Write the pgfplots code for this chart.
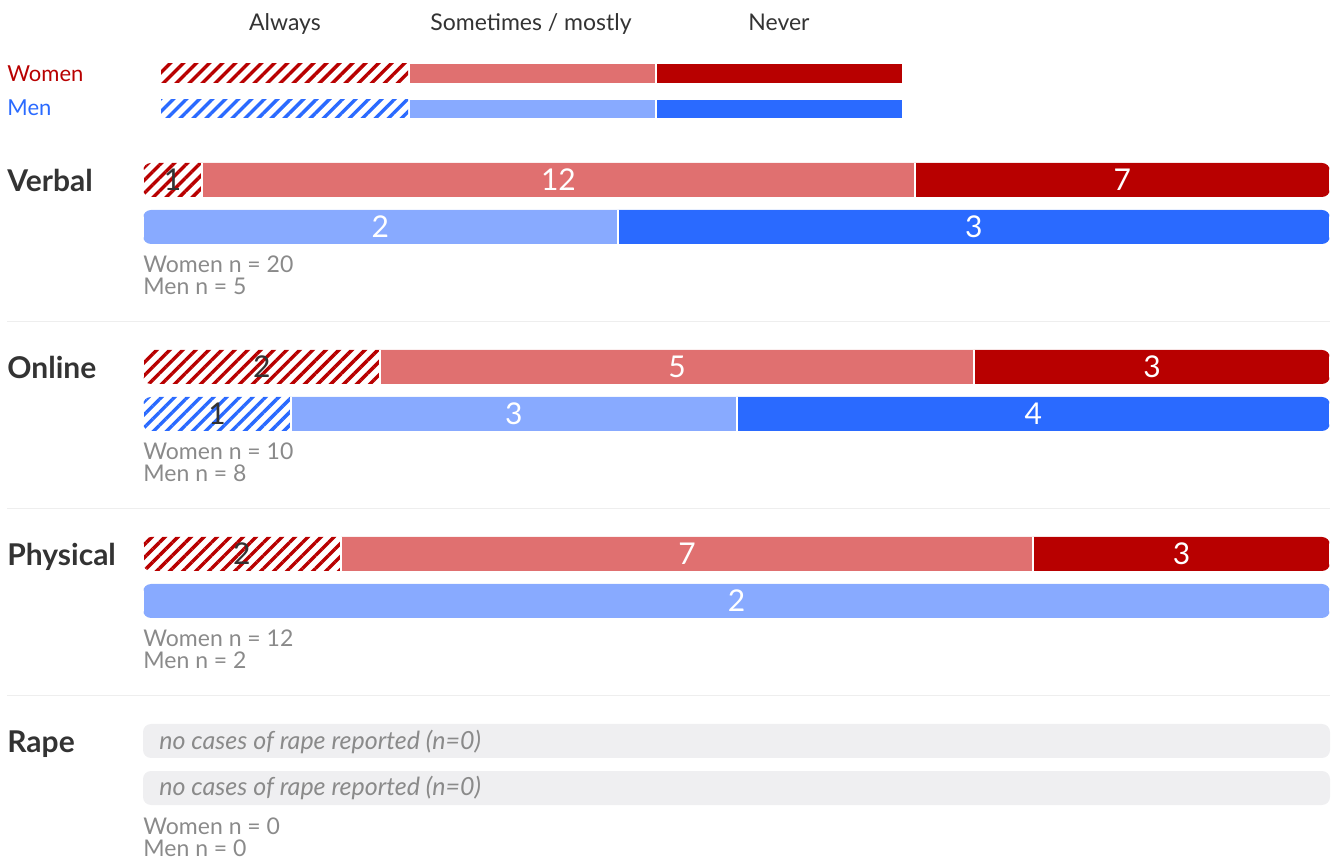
\documentclass[border=0pt]{standalone}
\usepackage{fontspec}
\setmainfont{Lato}
\usepackage{pgfplots}
\pgfplotsset{compat=1.18}
\usepackage{pgfplotstable}
\usetikzlibrary{patterns.meta}

\definecolor{wdark}{HTML}{B80000}
\definecolor{wlight}{HTML}{E07070}
\definecolor{mdark}{HTML}{2A6AFF}
\definecolor{mlight}{HTML}{88AAFF}
\definecolor{txt}{HTML}{333333}
\definecolor{gtxt}{HTML}{8A8A8A}
\definecolor{boxg}{HTML}{EFEFF1}
\definecolor{sepg}{HTML}{EEEEEE}

% counts: always, sometimes/mostly, never, n ; y = row position
\pgfplotstableread{
y a s v n
180 1 12 7 20
367 2 5 3 10
554 2 7 3 12
}\women
\pgfplotstableread{
y a s v n
227 0 2 3 5
414 1 3 4 8
601 0 2 0 2
}\men

\tikzset{
  hatchW/.style={pattern={Lines[angle=45,distance=4.6pt,line width=1.7pt]}, pattern color=wdark},
  hatchM/.style={pattern={Lines[angle=45,distance=4.6pt,line width=1.7pt]}, pattern color=mdark},
}
\pgfplotsset{
  barax/.style={at={(71.5pt,0pt)}, anchor=south west, scale only axis,
    width=593.5pt, height=429pt, xmin=0, xmax=100, ymin=0, ymax=858,
    y dir=reverse, hide axis, clip=false},
}
\newcommand{\numfont}{\fontsize{15}{18}\selectfont}

\begin{document}
\begin{tikzpicture}
\useasboundingbox (0,0) rectangle (667.5pt,429pt);

% ---------- bars (clipped to rounded rows) ----------
\begin{scope}
\clip[x=0.5pt,y=-0.5pt,yshift=429pt,rounded corners=4pt]
  (143,163) rectangle (1330,197)
  (143,210) rectangle (1330,244)
  (143,350) rectangle (1330,384)
  (143,397) rectangle (1330,431)
  (143,537) rectangle (1330,571)
  (143,584) rectangle (1330,618);
\begin{axis}[barax, xbar stacked, bar width=18pt]
\addplot[draw=white, line width=1pt, hatchW] table[x expr=\thisrow{a}/\thisrow{n}*100, y=y]{\women};
\addplot[draw=white, line width=1pt, fill=wlight] table[x expr=\thisrow{s}/\thisrow{n}*100, y=y]{\women};
\addplot[draw=white, line width=1pt, fill=wdark] table[x expr=\thisrow{v}/\thisrow{n}*100, y=y]{\women};
\end{axis}
\begin{axis}[barax, xbar stacked, bar width=18pt]
\addplot[draw=white, line width=1pt, hatchM] table[x expr=\thisrow{a}/\thisrow{n}*100, y=y]{\men};
\addplot[draw=white, line width=1pt, fill=mlight] table[x expr=\thisrow{s}/\thisrow{n}*100, y=y]{\men};
\addplot[draw=white, line width=1pt, fill=mdark] table[x expr=\thisrow{v}/\thisrow{n}*100, y=y]{\men};
\end{axis}
\end{scope}

% ---------- value labels ----------
\begin{axis}[barax, nodes near coords={\ifnum\pgfplotspointmeta=0 \else\pgfplotspointmeta\fi},
  point meta=explicit symbolic,
  every node near coord/.append style={anchor=center, font=\numfont, text=white}]
\addplot[only marks, mark=none, every node near coord/.append style={text=txt}]
  table[x expr=\thisrow{a}/\thisrow{n}*50, y=y, meta=a]{\women};
\addplot[only marks, mark=none]
  table[x expr=(\thisrow{a}+\thisrow{s}/2)/\thisrow{n}*100, y=y, meta=s]{\women};
\addplot[only marks, mark=none]
  table[x expr=(\thisrow{a}+\thisrow{s}+\thisrow{v}/2)/\thisrow{n}*100, y=y, meta=v]{\women};
\addplot[only marks, mark=none, every node near coord/.append style={text=txt}]
  table[x expr=\thisrow{a}/\thisrow{n}*50, y=y, meta=a]{\men};
\addplot[only marks, mark=none]
  table[x expr=(\thisrow{a}+\thisrow{s}/2)/\thisrow{n}*100, y=y, meta=s]{\men};
\addplot[only marks, mark=none]
  table[x expr=(\thisrow{a}+\thisrow{s}+\thisrow{v}/2)/\thisrow{n}*100, y=y, meta=v]{\men};
\end{axis}

% ---------- decorations and text ----------
\begin{scope}[x=0.5pt,y=-0.5pt,shift={(0pt,429pt)}]
% header
\node[anchor=base, text=txt, font=\fontsize{11.5}{14}\selectfont] at (285,31) {Always};
\node[anchor=base, text=txt, font=\fontsize{11.5}{14}\selectfont] at (531,31) {Sometimes / mostly};
\node[anchor=base, text=txt, font=\fontsize{11.5}{14}\selectfont] at (779,31) {Never};
% legend
\node[anchor=base west, inner sep=0pt, text=wdark, font=\fontsize{11}{13}\selectfont] at (7,82) {Women};
\node[anchor=base west, inner sep=0pt, text=mdark, font=\fontsize{11}{13}\selectfont] at (7,116) {Men};
\fill[hatchW] (161,64) rectangle (408,83);
\fill[wlight] (410,64) rectangle (655,83);
\fill[wdark] (657,64) rectangle (902,83);
\fill[hatchM] (161,100) rectangle (408,118);
\fill[mlight] (410,100) rectangle (655,118);
\fill[mdark] (657,100) rectangle (902,118);
% categories
\foreach \lab/\yy in {Verbal/192, Online/379, Physical/566, Rape/753}
  \node[anchor=base west, inner sep=0pt, text=txt, font=\fontsize{15}{17}\selectfont\bfseries] at (7,\yy) {\lab};
% n texts
\foreach \w/\m/\yy in {20/5/273, 10/8/460, 12/2/647, 0/0/834}{
  \node[anchor=base west, inner sep=0pt, text=gtxt, font=\fontsize{11.5}{13}\selectfont] at (143,\yy) {Women n = \w};
  \node[anchor=base west, inner sep=0pt, text=gtxt, font=\fontsize{11.5}{13}\selectfont] at (143,\yy+22) {Men n = \m};
}
% separators
\foreach \yy in {322,509,696}
  \draw[sepg, line width=0.5pt] (7,\yy) -- (1330,\yy);
% rape placeholders
\fill[boxg, rounded corners=4pt] (143,724) rectangle (1330,758);
\fill[boxg, rounded corners=4pt] (143,771) rectangle (1330,805);
\node[anchor=base west, inner sep=0pt, text=gtxt, font=\fontsize{12.5}{14}\selectfont\itshape] at (159,749) {no cases of rape reported (n=0)};
\node[anchor=base west, inner sep=0pt, text=gtxt, font=\fontsize{12.5}{14}\selectfont\itshape] at (159,796) {no cases of rape reported (n=0)};
\end{scope}
\end{tikzpicture}
\end{document}
